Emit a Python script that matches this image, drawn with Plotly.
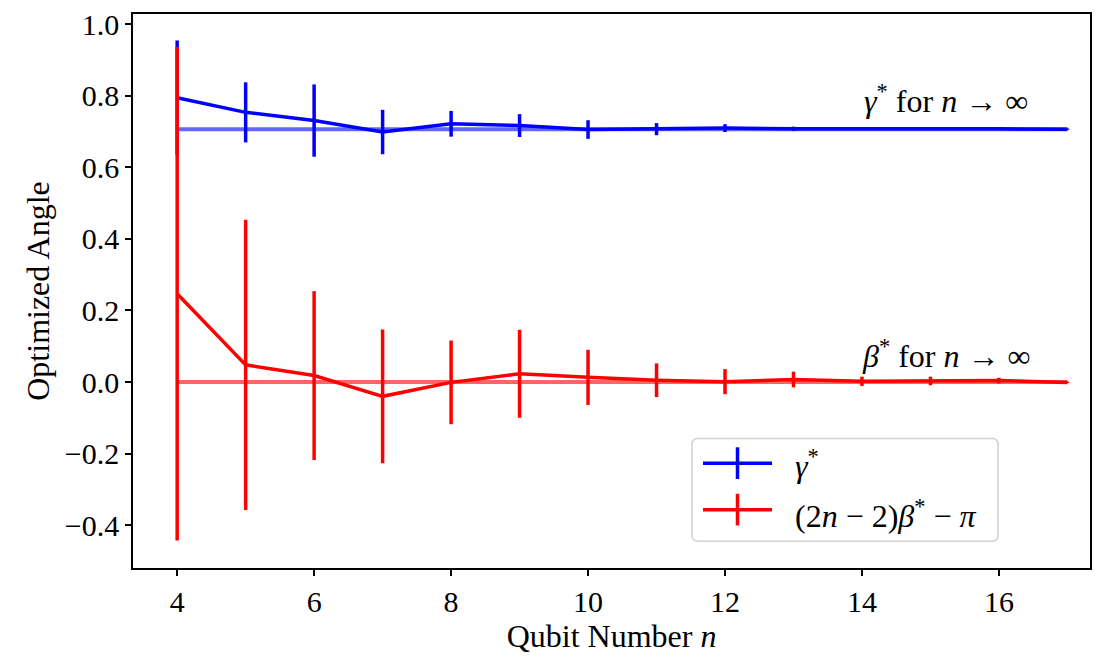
import plotly.graph_objects as go

# ---- data ----
n_vals = [4, 5, 6, 7, 8, 9, 10, 11, 12, 13, 14, 15, 16, 17]
gamma = [0.795, 0.754, 0.731, 0.699, 0.722, 0.717, 0.706, 0.707, 0.710, 0.708, 0.709, 0.708, 0.708, 0.707]
gamma_err = [0.160, 0.084, 0.101, 0.062, 0.036, 0.032, 0.026, 0.017, 0.011, 0.006, 0.003, 0.002, 0.002, 0.002]
beta = [0.247, 0.048, 0.018, -0.040, -0.001, 0.023, 0.013, 0.005, 0.001, 0.007, 0.002, 0.003, 0.004, -0.001]
beta_err = [0.690, 0.406, 0.236, 0.187, 0.117, 0.123, 0.077, 0.047, 0.035, 0.022, 0.013, 0.012, 0.008, 0.002]
gamma_inf = 0.707
beta_inf = 0.0
ref_n = [4, 17]

y_ticks = [-0.4, -0.2, 0.0, 0.2, 0.4, 0.6, 0.8, 1.0]
y_ticktext = ["\u22120.4", "\u22120.2", "0.0", "0.2", "0.4", "0.6", "0.8", "1.0"]
x_ticks = [4, 6, 8, 10, 12, 14, 16]

BLUE = "#0000ff"
RED = "#ff0000"
FONT = "Liberation Serif"
FS = 32

W, H = 1103, 657
ML, MR, MT, MB = 133, 13, 8, 89
PW, PH = W - ML - MR, H - MT - MB


def px(x):
    return (x - ML) / PW


def py(y):
    return 1 - (y - MT) / PH


fig = go.Figure()

# reference lines
fig.add_trace(go.Scatter(x=ref_n, y=[gamma_inf] * 2, mode="lines",
                         line=dict(color=BLUE, width=4), opacity=0.6,
                         showlegend=False, hoverinfo="skip"))
fig.add_trace(go.Scatter(x=ref_n, y=[beta_inf] * 2, mode="lines",
                         line=dict(color=RED, width=4), opacity=0.6,
                         showlegend=False, hoverinfo="skip"))

# data
fig.add_trace(go.Scatter(x=n_vals, y=gamma, mode="lines",
                         line=dict(color=BLUE, width=3.5),
                         error_y=dict(type="data", array=gamma_err, visible=True,
                                      color=BLUE, thickness=3.5, width=0),
                         name="gamma", showlegend=False))
fig.add_trace(go.Scatter(x=n_vals, y=beta, mode="lines",
                         line=dict(color=RED, width=3.5),
                         error_y=dict(type="data", array=beta_err, visible=True,
                                      color=RED, thickness=3.5, width=0),
                         name="beta", showlegend=False))

tfont = dict(family=FONT, size=FS, color="black")
annotations = [
    dict(x=15.23, y=0.79, xref="x", yref="y", showarrow=False,
         text="<i>\u03b3</i><sup>*</sup> for <i>n</i> \u2192 \u221e",
         font=tfont, xanchor="center", yanchor="middle"),
    dict(x=15.23, y=0.078, xref="x", yref="y", showarrow=False,
         text="<i>\u03b2</i><sup>*</sup> for <i>n</i> \u2192 \u221e",
         font=tfont, xanchor="center", yanchor="middle"),
    dict(x=px(793), y=py(463), xref="paper", yref="paper", showarrow=False,
         text="<i>\u03b3</i><sup>*</sup>",
         font=tfont, xanchor="left", yanchor="middle"),
    dict(x=px(793), y=py(513), xref="paper", yref="paper", showarrow=False,
         text="(2<i>n</i> \u2212 2)<i>\u03b2</i><sup>*</sup> \u2212 <i>\u03c0</i>",
         font=tfont, xanchor="left", yanchor="middle"),
]

# legend box (rounded)
x0, x1, y0, y1, r = 692, 998, 437, 541, 6
path = (f"M {px(x0 + r)},{py(y0)} L {px(x1 - r)},{py(y0)} "
        f"Q {px(x1)},{py(y0)} {px(x1)},{py(y0 + r)} "
        f"L {px(x1)},{py(y1 - r)} Q {px(x1)},{py(y1)} {px(x1 - r)},{py(y1)} "
        f"L {px(x0 + r)},{py(y1)} Q {px(x0)},{py(y1)} {px(x0)},{py(y1 - r)} "
        f"L {px(x0)},{py(y0 + r)} Q {px(x0)},{py(y0)} {px(x0 + r)},{py(y0)} Z")
shapes = [
    dict(type="path", path=path, xref="paper", yref="paper",
         fillcolor="rgba(255,255,255,0.8)", line=dict(color="#d0d0d0", width=1.5)),
]
for yc, col in [(462, BLUE), (509, RED)]:
    shapes.append(dict(type="line", xref="paper", yref="paper",
                       x0=px(703), x1=px(772), y0=py(yc), y1=py(yc),
                       line=dict(color=col, width=3.5)))
    shapes.append(dict(type="line", xref="paper", yref="paper",
                       x0=px(737.5), x1=px(737.5), y0=py(yc - 16), y1=py(yc + 16),
                       line=dict(color=col, width=3.5)))

axis_common = dict(showgrid=False, zeroline=False, showline=True, linecolor="black",
                   linewidth=1.5, mirror=True, ticks="outside", ticklen=6, tickwidth=1.5,
                   tickcolor="black", tickfont=dict(family=FONT, size=30, color="black"))

fig.update_layout(
    width=W, height=H,
    margin=dict(l=ML, r=MR, t=MT, b=MB),
    paper_bgcolor="white", plot_bgcolor="white",
    showlegend=False,
    xaxis=dict(range=[3.355, 17.33], tickvals=x_ticks,
               title=dict(text="Qubit Number <i>n</i>", font=tfont, standoff=4),
               **axis_common),
    yaxis=dict(range=[-0.52, 1.029], tickvals=y_ticks, ticktext=y_ticktext,
               title=dict(text="Optimized Angle", font=tfont, standoff=6),
               **axis_common),
    annotations=annotations,
    shapes=shapes,
)

fig.write_html("out.html")
